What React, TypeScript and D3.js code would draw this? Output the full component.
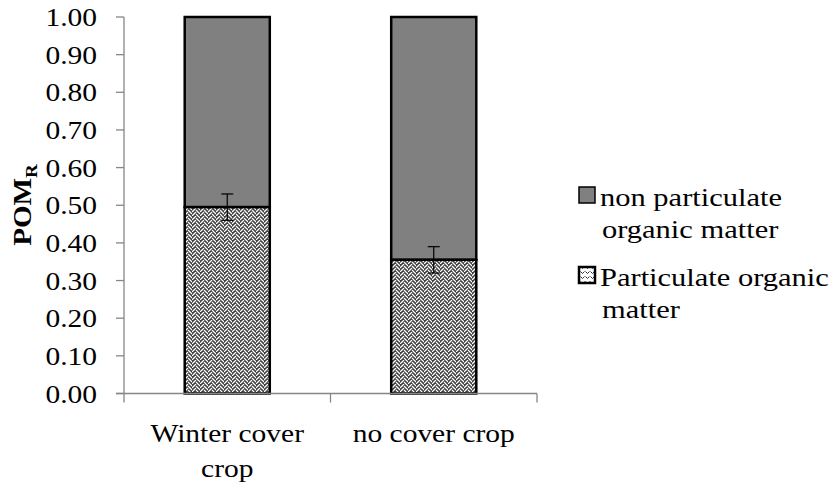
import React from "react";
import * as d3 from "d3";

const categories = ["Winter cover crop", "no cover crop"];
const categoryLines = [["Winter cover", "crop"], ["no cover crop"]];
const pomValues = [0.495, 0.355];
const pomErrors = [0.035, 0.035];
const nonPomValues = [0.505, 0.645];
const yTicks = [0, 0.1, 0.2, 0.3, 0.4, 0.5, 0.6, 0.7, 0.8, 0.9, 1.0];
const legendItems = [
  { key: "non", lines: ["non particulate", "organic matter"] },
  { key: "pom", lines: ["Particulate organic", "matter"] },
];

const W = 834;
const H = 485;
const left = 124;
const right = 537;
const top = 17;
const bottom = 393.5;
const FONT = "Liberation Serif";

export default function App() {
  const x = d3.scaleBand<string>().domain(categories).range([left, right]).paddingInner(0.588).paddingOuter(0.294);
  const y = d3.scaleLinear().domain([0, 1]).range([bottom, top]);
  const bw = x.bandwidth();
  const axisColor = "#868686";

  const T = (props: { x: number; y: number; anchor?: string; size?: number; sx?: number; children: React.ReactNode }) => (
    <text
      transform={`translate(${props.x},${props.y}) scale(${props.sx || 1.18},1)`}
      textAnchor={props.anchor || "start"}
      fontSize={props.size || 25}
      fontFamily={FONT}
      fill="#000"
    >
      {props.children}
    </text>
  );

  return (
    <div style={{ position: "absolute", left: 0, top: 0 }}>
      <svg width={W} height={H} style={{ display: "block", background: "#fff" }}>
        <defs>
          <pattern id="herring" width="8" height="8" patternUnits="userSpaceOnUse">
            <rect width="8" height="8" fill="#3c3c3c" />
            <g stroke="#fff" strokeWidth="1.25" fill="none">
              <path d="M0,4 L4,0 M0,8 L4,4" />
              <path d="M4,-2 L8,2 M4,2 L8,6 M4,6 L8,10" />
            </g>
          </pattern>
          <pattern id="herringSmall" width="5" height="5" patternUnits="userSpaceOnUse">
            <rect width="5" height="5" fill="#fff" />
            <path d="M0.5,1.5 L2.5,3.5 L4.5,1.5" stroke="#333" strokeWidth="1" fill="none" />
          </pattern>
        </defs>

        {/* y axis */}
        <line x1={left} x2={left} y1={y(1)} y2={bottom} stroke={axisColor} strokeWidth={1.3} />
        {yTicks.map((t) => (
          <g key={t}>
            <line x1={left - 8} x2={left} y1={y(t)} y2={y(t)} stroke={axisColor} strokeWidth={1.3} />
            <T x={97} y={y(t) + 9} anchor="end">{d3.format(".2f")(t)}</T>
          </g>
        ))}

        {/* bars */}
        {categories.map((c, i) => {
          const x0 = x(c)!;
          const yPom = y(pomValues[i]);
          const yTop = y(pomValues[i] + nonPomValues[i]);
          const cx = x0 + bw / 2;
          const eHi = y(pomValues[i] + pomErrors[i]);
          const eLo = y(pomValues[i] - pomErrors[i]);
          return (
            <g key={c}>
              <rect x={x0} y={yTop} width={bw} height={yPom - yTop} fill="#808080" stroke="#000" strokeWidth={2.5} />
              <rect x={x0} y={yPom} width={bw} height={bottom - yPom} fill="url(#herring)" stroke="#000" strokeWidth={2.5} />
              <line x1={cx} x2={cx} y1={eHi} y2={eLo} stroke="#000" strokeWidth={1.2} />
              <line x1={cx - 6} x2={cx + 6} y1={eHi} y2={eHi} stroke="#000" strokeWidth={1.2} />
              <line x1={cx - 6} x2={cx + 6} y1={eLo} y2={eLo} stroke="#000" strokeWidth={1.2} />
            </g>
          );
        })}

        {/* x axis */}
        <line x1={left - 8} x2={right} y1={bottom} y2={bottom} stroke={axisColor} strokeWidth={1.3} />
        {[left, (left + right) / 2, right].map((v, i) => (
          <line key={i} x1={v} x2={v} y1={bottom} y2={bottom + 9} stroke={axisColor} strokeWidth={1.3} />
        ))}
        {categories.map((c, i) => (
          <g key={c}>
            {categoryLines[i].map((ln, j) => (
              <T key={j} x={x(c)! + bw / 2} y={442 + j * 35} anchor="middle">{ln}</T>
            ))}
          </g>
        ))}

        {/* y axis title */}
        <text
          transform={`translate(31,205) rotate(-90) scale(1.12,1)`}
          textAnchor="middle"
          fontFamily={FONT}
          fontWeight="bold"
          fontSize={26}
          fill="#000"
        >
          POM
          <tspan fontSize={17} dy={6}>R</tspan>
        </text>

        {/* legend */}
        {legendItems.map((it, i) => {
          const ly = 187 + i * 80;
          return (
            <g key={it.key}>
              <rect x={579} y={ly} width={16} height={16} fill={it.key === "non" ? "#808080" : "url(#herringSmall)"} stroke="#000" strokeWidth={it.key === "non" ? 1.5 : 2.5} />
              {it.lines.map((ln, j) => (
                <T key={j} x={j === 0 ? 600 : 602} y={ly + 19 + j * 32} size={25} sx={1.22}>{ln}</T>
              ))}
            </g>
          );
        })}
      </svg>
    </div>
  );
}
